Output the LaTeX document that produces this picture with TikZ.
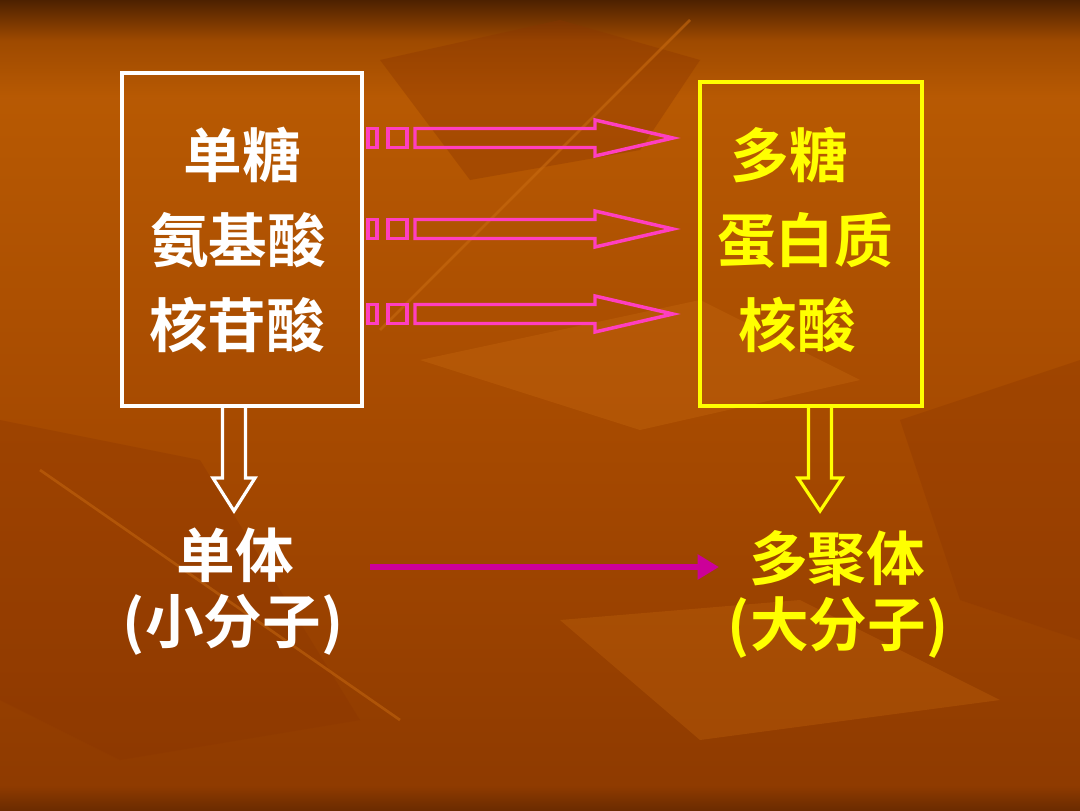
\documentclass[tikz,border=0pt]{standalone}
\usepackage{fontspec}
\newfontfamily\cjk{Noto Sans CJK SC}[BoldFont={* Bold}]
\usetikzlibrary{arrows.meta}
\definecolor{pinkA}{HTML}{FF3FC0}
\definecolor{magA}{HTML}{CC0099}
\definecolor{yel}{HTML}{FFFF00}
\definecolor{leafL}{HTML}{C86A10}
\definecolor{leafD}{HTML}{8A3400}
\pgfdeclareverticalshading{bgsh}{100bp}{
 rgb(0bp)=(0.42,0.17,0.0);
 rgb(25bp)=(0.42,0.17,0.0);
 rgb(26.5bp)=(0.56,0.23,0.0);
 rgb(45bp)=(0.64,0.28,0.0);
 rgb(69bp)=(0.72,0.35,0.01);
 rgb(72.5bp)=(0.62,0.29,0.0);
 rgb(75bp)=(0.30,0.13,0.0);
 rgb(100bp)=(0.30,0.13,0.0)}
\tikzset{
 lbl/.style={font=\cjk\bfseries\fontsize{44}{50}\selectfont,inner sep=0pt,anchor=center},
 boxw/.style={draw=white,line width=2.4pt},
 boxy/.style={draw=yel,line width=2.4pt},
 blk/.style={draw=pinkA,line width=2.6pt,line join=miter},
 down/.style={line width=2.4pt,line join=miter},
}
\begin{document}
\begin{tikzpicture}[x=0.75pt,y=-0.75pt]
\useasboundingbox (0,0) rectangle (1080,810);
\shade[shading=bgsh] (0,0) rectangle (1080,810);
% subtle leaf texture
\begin{scope}
\fill[leafD,opacity=0.35] (380,60) -- (560,20) -- (700,60) -- (640,150) -- (470,180) -- cycle;
\fill[leafL,opacity=0.35] (420,360) -- (700,300) -- (860,380) -- (640,430) -- cycle;
\fill[leafD,opacity=0.3] (0,420) -- (200,460) -- (360,720) -- (120,760) -- (0,700) -- cycle;
\fill[leafD,opacity=0.3] (900,420) -- (1080,360) -- (1080,640) -- (960,600) -- cycle;
\fill[leafL,opacity=0.3] (560,620) -- (800,600) -- (1000,700) -- (700,740) -- cycle;
\draw[leafL,opacity=0.6,line width=2pt] (380,330) -- (690,20);
\draw[leafL,opacity=0.5,line width=2pt] (40,470) -- (400,720);
\end{scope}
% boxes
\node[boxw,minimum width=240*0.75pt,minimum height=333*0.75pt,inner sep=0pt] (lbox) at (242,239.5) {};
\node[boxy,minimum width=222*0.75pt,minimum height=324*0.75pt,inner sep=0pt] (rbox) at (811,244) {};
% left texts
\node[lbl,white] (l1) at (242,155) {单糖};
\node[lbl,white] (l2) at (238,240) {氨基酸};
\node[lbl,white] (l3) at (237,325) {核苷酸};
% right texts
\node[lbl,yel] (r1) at (789,155) {多糖};
\node[lbl,yel] (r2) at (805,240) {蛋白质};
\node[lbl,yel] (r3) at (797,325) {核酸};
% striped block arrows
\foreach \yc in {138,229,314}{
 \draw[blk] (368,\yc-9.5) rectangle (377,\yc+9.5);
 \draw[blk] (388,\yc-9.5) rectangle (407,\yc+9.5);
 \draw[blk] (415,\yc-9.5) -- (595,\yc-9.5) -- (595,\yc-18) -- (673,\yc) -- (595,\yc+18) -- (595,\yc+9.5) -- (415,\yc+9.5) -- cycle;
}
% down arrows
\draw[down,white] (222.5,404) -- (222.5,478) -- (213,478) -- (234,511) -- (255,478) -- (245.5,478) -- (245.5,404);
\draw[down,yel] (808.5,404) -- (808.5,478) -- (798,478) -- (820,511) -- (842,478) -- (831.5,478) -- (831.5,404);
% bottom texts
\node[lbl,white] (b1) at (235,555) {单体};
\node[lbl,white] (b2) at (233,625) {(小分子)};
\node[lbl,yel] (b3) at (837,558) {多聚体};
\node[lbl,yel] (b4) at (838,628) {(大分子)};
% magenta arrow
\coordinate (ms) at (370,567);
\coordinate (me) at (719,567);
\draw[magA,line width=4.5pt,-{Triangle[length=16pt,width=18pt]}] (ms) -- (me);
\end{tikzpicture}
\end{document}
